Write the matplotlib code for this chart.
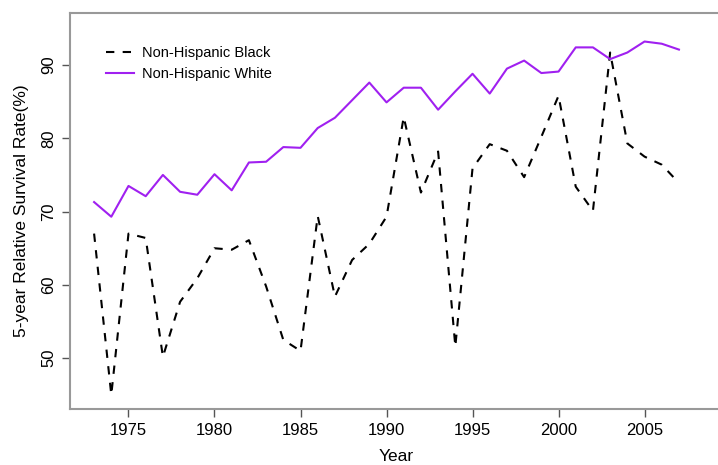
import numpy as np
import matplotlib
matplotlib.use("Agg")
import matplotlib.pyplot as plt

plt.rcParams['font.family'] = ['Liberation Sans', 'DejaVu Sans']

years = list(range(1973, 2008))
black = [67.0, 45.0, 67.0, 66.4, 50.2, 57.7, 60.9, 65.0, 64.8, 66.1,
         59.8, 52.5, 51.0, 69.4, 58.4, 63.4, 65.6, 69.3, 82.9, 72.6,
         78.2, 51.6, 75.9, 79.2, 78.3, 74.7, 80.2, 85.8, 73.4, 70.1,
         91.7, 79.3, 77.5, 76.4, 73.9]
white = [71.3, 69.3, 73.5, 72.1, 75.0, 72.7, 72.3, 75.1, 72.9, 76.7,
         76.8, 78.8, 78.7, 81.4, 82.8, 85.2, 87.6, 84.9, 86.9, 86.9,
         83.9, 86.4, 88.8, 86.1, 89.5, 90.6, 88.9, 89.1, 92.4, 92.4,
         90.8, 91.7, 93.2, 92.9, 92.1]
xticks = [1975, 1980, 1985, 1990, 1995, 2000, 2005]
yticks = [50, 60, 70, 80, 90]

fig = plt.figure(figsize=(7.18, 4.65), dpi=100)
ax = fig.add_axes([0.0975, 0.1204, 0.908, 0.851])

ax.plot(years, black, color='black', lw=1.5, dashes=(4, 4), label='Non-Hispanic Black')
ax.plot(years, white, color='#A020F0', lw=1.5, label='Non-Hispanic White')

ax.set_xlim(1971.6, 2009.5)
ax.set_ylim(43.07, 97.05)
ax.set_xticks(xticks)
ax.set_yticks(yticks)
ax.set_yticklabels([str(v) for v in yticks], rotation=90, va='center')
ax.tick_params(labelsize=12, color='#555555', length=6, width=1, pad=4)
for s in ax.spines.values():
    s.set_color('#999999')
    s.set_linewidth(1.5)

ax.set_xlabel('Year', fontsize=12.5, labelpad=8)
ax.set_ylabel('5-year Relative Survival Rate(%)', fontsize=12.5, labelpad=9)

ax.legend(loc='upper left', frameon=False, fontsize=10.5, handlelength=1.9,
          handletextpad=0.6, bbox_to_anchor=(0.035, 0.95), labelspacing=0.45)

fig.savefig('out.png', dpi=100)
